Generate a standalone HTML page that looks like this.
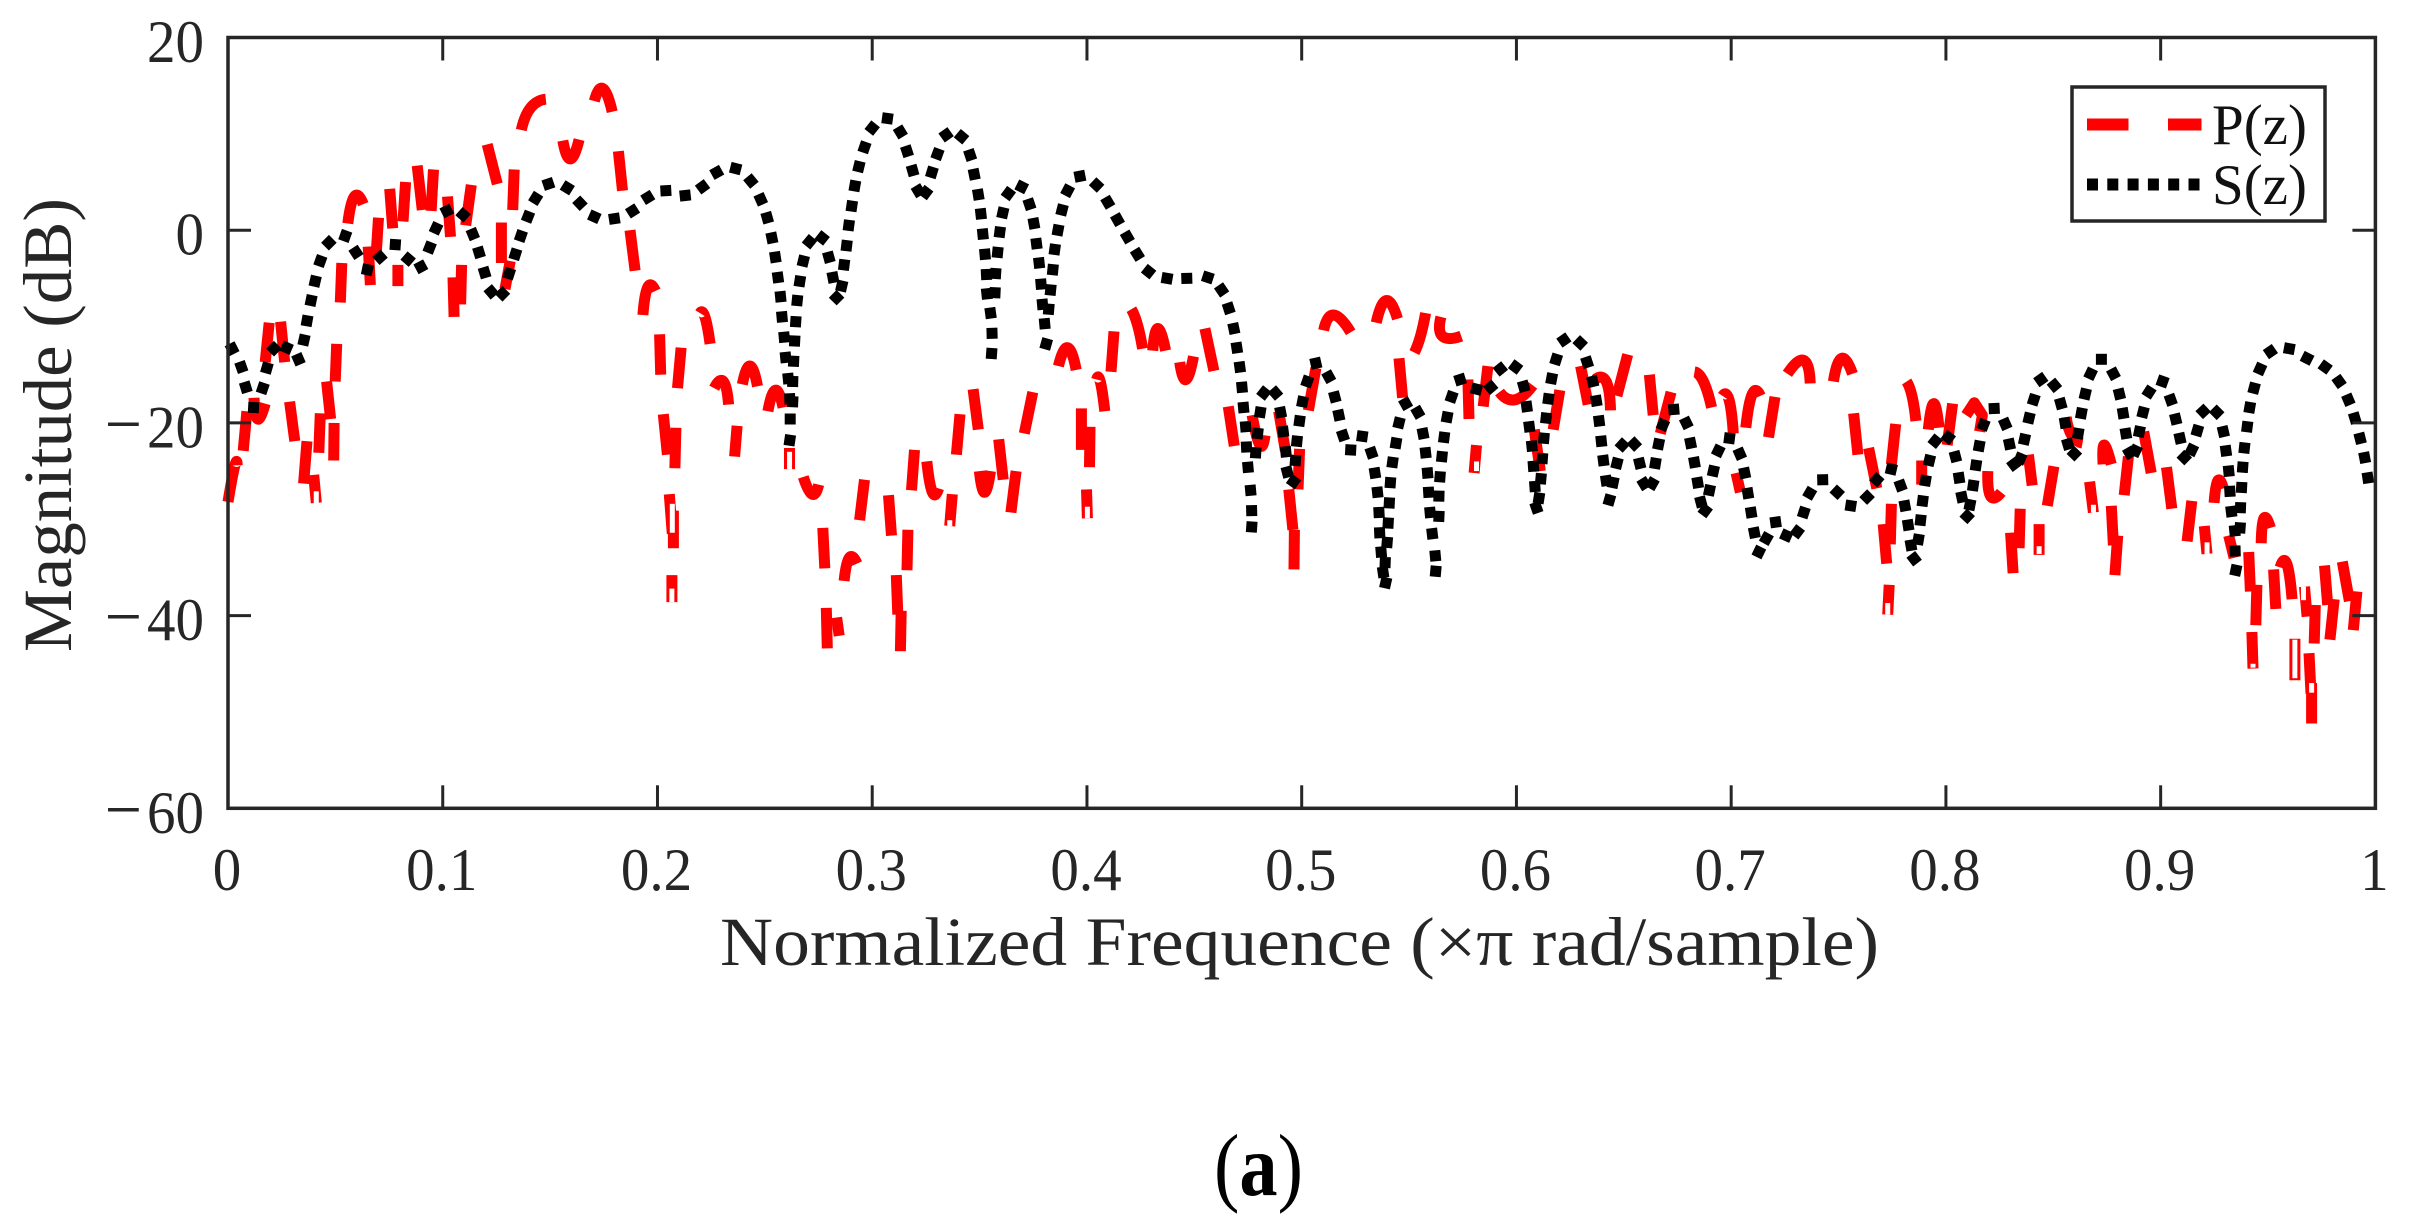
<!DOCTYPE html>
<html lang="en">
<head>
<meta charset="utf-8">
<title>Magnitude response chart</title>
<style>
html,body{margin:0;padding:0;background:#fff;}
svg{display:block;}
text{font-family:"Liberation Serif","DejaVu Serif",serif;}
</style>
</head>
<body>
<svg id="chart" xmlns="http://www.w3.org/2000/svg" width="2409" height="1228" viewBox="0 0 2409 1228">
  <rect x="0" y="0" width="2409" height="1228" fill="#fff"/>
  <g id="series-p"></g>
  <g id="series-s"></g>
  <g id="axes"></g>
  <text transform="translate(720,965) scale(1,1.04)" font-size="66" fill="#262626" textLength="1159" lengthAdjust="spacingAndGlyphs">Normalized Frequence (×π rad/sample)</text>
  <text transform="translate(71,652) rotate(-90) scale(1,1.04)" font-size="66" fill="#262626" textLength="454" lengthAdjust="spacingAndGlyphs">Magnitude (dB)</text>
  <g>
    <rect x="2072" y="87" width="253" height="134" fill="#fff" stroke="#262626" stroke-width="3.5"/>
    <line x1="2087" y1="124.5" x2="2128.5" y2="124.5" stroke="#ff0000" stroke-width="12"/>
    <line x1="2168" y1="124.5" x2="2201.5" y2="124.5" stroke="#ff0000" stroke-width="12"/>
    <line x1="2087" y1="184.5" x2="2201" y2="184.5" stroke="#000" stroke-width="12" stroke-dasharray="11 9.3"/>
    <text x="2212" y="144" font-size="57" fill="#111">P(z)</text>
    <text x="2212" y="204" font-size="57" fill="#111">S(z)</text>
  </g>
  <text x="1214" y="1195" font-size="88" fill="#000" textLength="89" lengthAdjust="spacingAndGlyphs">(<tspan font-weight="bold">a</tspan>)</text>
</svg>
<script>
const xTicks = [0,0.1,0.2,0.3,0.4,0.5,0.6,0.7,0.8,0.9,1];
const xTickLabels = ['0','0.1','0.2','0.3','0.4','0.5','0.6','0.7','0.8','0.9','1'];
const yTicks = [20,0,-20,-40,-60];
const yTickLabels = ['20','0','−20','−40','−60'];

/* P(z): visible dashes of the red curve — frequency (×π rad/sample) */
const pFreq = [
[0,.0031,.0043],[.0071,.0088],[.0121,.0138,.0173],[.0173,.0192],[.0245,.0264],[.0287,.0311],[.0368,.0352],[.0399,.0411],[.0423,.043],[.0478,.0459],
[.0492,.0494],[.0499,.0506],[.0523,.053],[.0558,.0589,.063],[.0663,.0653],[.0689,.0701],[.0791,.0791],[.0767,.0753],[.0815,.0827],[.0905,.0881],
[.0946,.0957],[.1036,.1022],[.1053,.1048],[.1083,.1088],[.1107,.1133],[.1254,.1207],[.1273,.1273],[.1314,.129],[.1326,.1333],[.1366,.1409,.148],
[.1559,.1594,.1635],[.1706,.1746,.1789],[.1818,.1837],[.1872,.1896],[.1932,.1955,.1991],[.2198,.2221,.2245],[.201,.2015],[.211,.2093],[.2264,.2307,.2331],[.2395,.2431,.2466],
[.2514,.2549,.2585],[.2027,.2046],[.2086,.2081],[.2371,.2359],[.2055,.2069],[.2074,.2074],[.2067,.2067],[.2615,.2615],[.2679,.272,.2751],[.277,.2779],
[.2786,.2791],[.2834,.2846],[.2869,.2893,.2929],[.2941,.2964],[.3076,.309],[.3162,.3166],[.3112,.3119],[.3135,.3131],[.3183,.3197],[.3254,.328,.3309],
[.3361,.3373],[.3392,.3409],[.3494,.347],[.3499,.3523,.3551],[.361,.3589],[.3646,.367],[.3708,.3748],[.3867,.391,.395],[.3974,.3974],[.4014,.4012],
[.3998,.4002],[.4045,.4062,.4083],[.4112,.4126],[.4207,.4235,.4259],[.4306,.433,.4366],[.4432,.4461,.4496],[.4591,.4549],[.4658,.4686],[.4769,.4805,.4829],[.4893,.4924],
[.499,.4983],[.494,.4959],[.4966,.4964],[.5066,.5031],[.5102,.5149,.5228],[.5347,.5394,.5446],[.5577,.5553,.5525],[.5648,.5655,.5743],[.5453,.547],[.5774,.5779],
[.5867,.5845],[.5814,.5803],[.5921,.5993,.6076],[.6083,.6111],[.6202,.6171],[.6299,.6334],[.6367,.6418,.6438],[.6468,.6518],[.6619,.6637],[.672,.667],
[.6829,.6871,.6909],[.696,.699,.701],[.7023,.7043],[.7068,.7098,.7136],[.7174,.7204],[.7262,.7338,.7368],[.7476,.7514,.7565],[.757,.759],[.764,.7678],[.7746,.7766],
[.7817,.7842,.786],[.7741,.7746],[.7724,.7708],[.7736,.7729],[.7918,.7943,.7968],[.7887,.7887],[.8006,.8031],[.8094,.8132,.817,.8157],[.8195,.8208,.8258],[.8346,.8341],
[.8313,.8301],[.8384,.8402],[.8434,.8434],[.8503,.8472],[.856,.8586,.8636],[.8669,.8687],[.8732,.8737,.877],[.877,.878],[.88,.8787],[.885,.883],
[.8921,.8956],[.9027,.9052],[.9145,.9123],[.9203,.9216],[.9249,.9266,.9292],[.9317,.9342],[.941,.9418],[.9468,.9481,.9511],[.9448,.9443],[.9425,.943],
[.9536,.9526],[.9556,.9587,.9612],[.967,.9682],[.9763,.9778],[.972,.9715],[.9808,.9788],[.9846,.9879],[.9914,.9897],[.9625,.9625],[.9691,.97],[.9703,.9703]
];
/* P(z): magnitude (dB), same grouping as pFreq */
const pMag = [
[-28.2,-24.5,-24.4],[-22.9,-18.8],[-17.4,-19.6,-18],[-13.7,-9.6],[-9.5,-13.7],[-17.8,-21.9],[-21.9,-26.3],[-25.4,-28.3],[-23.1,-19],[-19.6,-15.7],
[-23.9,-20],[-15.7,-11.8],[-7.5,-3.4],[.7,3.5,2.7],[-5.7,-1.7],[-2.8,1.3],[-3.6,-5.8],[.2,4.3],[.9,5],[2.1,6.7],
[2,6.3],[-.7,3.5],[-9,-4.9],[-7.7,-3.6],[.5,4.7],[4.8,8.9],[-3.4,.8],[-3.2,-6.1],[2.1,6.3],[10.4,12.7,13.6],
[9.3,7.4,9.4],[13.4,14.7,12.3],[8.2,4.1],[0,-4.2],[-8.8,-5.9,-6.3],[-8.6,-9,-11.8],[-10.8,-15],[-12.2,-16.4],[-16.4,-15.7,-18.1],[-16,-14.1,-16.2],
[-18.8,-16.6,-18.4],[-19.1,-23.3],[-20.5,-24.7],[-20.3,-23.5],[-27.4,-31.5],[-29.1,-33],[-35.8,-38.6],[-22.6,-24.8],[-25.6,-27.4,-26.4],[-30.9,-35.1],
[-39.2,-43.4],[-40.2,-42.1],[-36.4,-34,-34.6],[-30.1,-25.9],[-27.5,-31.7],[-35.3,-31.1],[-35.8,-39.9],[-39.5,-43.7],[-27,-22.8],[-24,-27.2,-26.8],
[-30.7,-27.4],[-23.3,-19.1],[-20.7,-16.5],[-25,-27.2,-25],[-25.9,-21.7],[-29.3,-25],[-21.1,-16.8],[-14.1,-12.2,-14.5],[-18.5,-22.8],[-20.4,-24.6],
[-26.9,-29.9],[-15.5,-15.7,-18.8],[-14.7,-10.5],[-8.2,-9.8,-12.3],[-12.5,-10.2,-12.5],[-13.7,-15.5,-13.1],[-14.6,-10.2],[-18.3,-22.4],[-19.2,-22.3,-21.3],[-18.8,-22.9],
[-22.7,-26.9],[-26.9,-31.1],[-31.1,-35.2],[-14.3,-18.7],[-10.4,-8.8,-10.6],[-9.6,-7.3,-9.2],[-8.6,-11,-12.7],[-9,-11,-11],[-13.3,-17.4],[-15.5,-19.6],
[-14.1,-18.3],[-22.3,-25.2],[-16.8,-17.6,-16.1],[-20.7,-25],[-16.6,-20.7],[-14.1,-18.1],[-15.5,-15.7,-18.7],[-17.2,-12.9],[-15,-19.2],[-16.8,-21.1],
[-14.7,-15.7,-18.4],[-17.2,-17.6,-21.1],[-25.2,-27.2],[-20.5,-17,-17.2],[-21.5,-17.3],[-14.9,-13.5,-15.9],[-15.7,-13.3,-14.9],[-19,-23.3],[-22.6,-26.8],[-24.3,-20.1],
[-15.7,-17.2,-19.8],[-32.6,-28.4],[-34.6,-30.5],[-36.8,-39.9],[-20.7,-18,-20.5],[-23.9,-26.4],[-22.3,-18],[-19.2,-17.9,-19.2,-20.9],[-25,-27.6,-27.2],[-28.9,-33],
[-35.6,-31.4],[-23.3,-26.5],[-30.5,-33.7],[-24.5,-28.6],[-19.4,-21.3,-22.1],[-26.1,-29.3],[-24.3,-22.3,-24.3],[-28.6,-32.7],[-31.7,-35.8],[-23.5,-27.5],
[-20.9,-25.2],[-24.6,-28.9],[-28.1,-32.3],[-30.7,-33.6],[-28.3,-26,-26.8],[-31.7,-34],[-33.4,-37.5],[-32.5,-29.9,-30.9],[-36.8,-41],[-41.7,-45.5],
[-39.3,-35.2],[-35,-34.6,-38.3],[-37,-40.1],[-34.8,-38.9],[-38.9,-42.9],[-38.3,-42.5],[-34.4,-38.5],[-37.5,-41.5],[-42.4,-46.7],[-43.9,-48.1],[-47,-51.2]
];
/* Small open spots inside the red line at sharp minima */
const pHoleFreq = [.0411,.2069,.2067,.2615,.4002,.3361,.5814,.7729,.8434,.8687,.9216,.9625,.9703,.9665,.943];
const pHoleMag = [-27.9,-29.9,-37.9,-23.9,-29.3,-30.4,-24.5,-39.3,-33.2,-28.9,-33,-44.5,-47.5,-37.7,-45.2];
const pHoleSpan = [1.6,3,1.4,1.8,1.2,.6,1,1.2,.8,.8,1.2,4,1,1.4,.4];

/* S(z): dotted black curve — one value per visible dot */
const sFreq = [
.0019,.0062,.0083,.0119,.0162,.0181,.0214,.0273,.0328,.0354,.0368,.0387,.0406,.043,.047,.0546,.0596,.0649,.0708,.0779,
.0839,.0898,.0939,.0969,.1019,.1095,.114,.1169,.1195,.1226,.1278,.1309,.1338,.1364,.1397,.1433,.1492,.158,.1639,.1706,
.1799,.1884,.1955,.2039,.2129,.221,.2276,.2364,.2435,.2481,.2511,.2533,.2549,.2561,.2573,.258,.259,.2597,.2609,.2616,
.2618,.2616,.263,.263,.2634,.2639,.2644,.2651,.2663,.2679,.2708,.2767,.2798,.2817,.2834,.2858,.2869,.2881,.2891,.2905,
.2919,.2938,.2964,.3,.3071,.3131,.3162,.3188,.3214,.3249,.3278,.3304,.3344,.3416,.3456,.3475,.3494,.3506,.3515,.3525,
.3532,.3534,.3551,.3558,.3556,.3572,.3575,.3584,.3594,.3608,.3634,.3696,.3732,.3753,.3765,.3777,.3786,.3793,.3803,.381,
.3822,.3831,.3841,.385,.3865,.3884,.391,.3967,.4045,.4097,.4142,.4188,.4235,.4287,.4373,.4465,.4563,.4627,.466,.4684,
.4698,.4712,.4722,.4729,.4739,.4743,.475,.4762,.4767,.4767,.4786,.4795,.4807,.4824,.4878,.4902,.4914,.4926,.4933,.4962,
.4971,.4978,.499,.5004,.5026,.5066,.5126,.5154,.5173,.5192,.5228,.5282,.5325,.5341,.5353,.536,.5363,.537,.5379,.5391,
.5389,.5398,.5403,.5408,.5413,.5423,.5439,.5453,.5484,.5541,.5565,.5577,.5586,.5591,.5598,.5608,.5622,.5624,.5639,.5639,
.5644,.5653,.5663,.5677,.5698,.5738,.5814,.588,.5925,.5996,.6034,.6048,.606,.6072,.6079,.6086,.6093,.6105,.6114,.6121,
.6128,.6138,.6149,.6164,.6185,.6221,.6297,.6329,.6355,.6372,.6385,.6395,.6405,.6418,.6433,.645,.6468,.6493,.6549,.6574,
.6594,.6632,.6647,.6662,.6682,.6733,.6791,.6811,.6829,.6844,.6859,.6879,.6899,.6917,.694,.6992,.704,.7063,.7078,.7093,
.7108,.7129,.7164,.7207,.7257,.7308,.7338,.7366,.7426,.7494,.7557,.7633,.7678,.7746,.7789,.7809,.7824,.7837,.7852,.7872,
.7882,.7892,.7905,.7923,.795,.8011,.8044,.8061,.8074,.8099,.8112,.8127,.814,.8155,.8175,.8225,.8276,.8296,.8316,.8346,
.8366,.8387,.8409,.8442,.8505,.8535,.8555,.8568,.8598,.8616,.8631,.8649,.8674,.8724,.878,.8808,.8825,.8838,.8855,.8883,
.8901,.8918,.8946,.9009,.9047,.907,.909,.911,.9145,.9171,.9198,.9261,.9292,.9304,.9317,.9322,.9329,.9345,.9347,.935,
.937,.9372,.9377,.9382,.939,.9403,.9415,.9435,.9463,.9511,.9599,.9682,.9766,.9831,.9874,.9904,.9929,.995,.9965
];
/* S(z): magnitude (dB), one value per dot */
const sMag = [
-12.3,-14.2,-16.3,-18.4,-16.4,-14.3,-12.3,-12.2,-13.4,-11.4,-9.4,-7.3,-5.3,-3.2,-1.3,-.6,-2.3,-4.1,-2.8,-1.5,
-3,-3.8,-1.8,.2,2,1.6,-.4,-2.3,-4.4,-6.4,-6.6,-4.5,-2.5,-.6,1.4,3.3,4.8,4.4,2.8,1.4,
1.2,2,3.4,4.1,3.6,4.5,6,6.4,5.1,3.2,1.3,-.8,-2.8,-4.9,-6.9,-9,-11.1,-13.2,-15.4,-17.5,
-19.6,-21.8,-17.8,-15.7,-13.6,-11.5,-9.5,-7.3,-5.3,-3.2,-1.2,-.8,-2.8,-4.9,-7,-5.8,-3.6,-1.6,.5,2.5,
4.6,6.6,8.6,10.6,11.6,10.2,8.2,6.2,4.1,3.9,6,7.9,9.9,9.7,7.8,5.8,3.7,1.7,-.4,-2.5,
-4.6,-6.6,-8.6,-10.7,-12.8,-6.5,-4.5,-2.3,-.2,1.8,3.8,4.5,2.7,.7,-1.4,-3.4,-5.6,-7.7,-9.7,-11.8,
-8.2,-6.2,-4.1,-2,0,2.1,4.1,5.6,4.7,2.9,1.1,-.7,-2.5,-4.3,-5,-5,-4.9,-6.2,-8.1,-10.2,
-12.2,-14.2,-16.3,-18.4,-20.4,-22.5,-24.6,-27,-29.1,-30.8,-23.1,-21.1,-18.9,-16.9,-16.9,-18.9,-20.9,-23,-25.1,-26.1,
-23.9,-21.9,-19.8,-17.8,-15.7,-13.8,-15.2,-17.3,-19.2,-21.3,-22.8,-21.4,-23.1,-25.2,-27.2,-29.3,-31.4,-33.4,-35.5,-36.6,
-34.5,-32.4,-30.4,-28.3,-26.2,-24.1,-22.1,-20,-18,-18.9,-21.1,-23.1,-25.2,-27.2,-29.3,-31.5,-33.8,-35.4,-29.7,-27.6,
-25.6,-23.5,-21.5,-19.4,-17.3,-15.5,-16.5,-16.3,-14.4,-14.2,-16.2,-18.3,-20.4,-22.4,-24.5,-26.6,-28.8,-27.8,-25.8,-23.7,
-21.6,-19.5,-17.5,-15.4,-13.4,-11.4,-11.7,-13.7,-15.7,-17.7,-19.8,-21.9,-23.9,-26,-28,-26.2,-24.2,-22.3,-22.2,-24.2,
-26.3,-26.3,-24.2,-22.2,-20.2,-18.6,-20,-22.1,-24.1,-26.2,-28.2,-29.1,-27,-25,-22.9,-21.6,-23.2,-25.2,-27.3,-29.3,
-31.4,-33.4,-32,-30.3,-31.7,-31.3,-29.3,-27.3,-25.9,-27.2,-28.6,-27.7,-25.9,-24.8,-26.5,-28.6,-30.6,-32.7,-34.1,-32.1,
-30.1,-28.1,-26,-23.9,-21.9,-21.5,-23.5,-25.7,-27.7,-29.7,-28.5,-26.5,-24.4,-22.4,-20.2,-18.5,-20.1,-22.2,-24.3,-23.7,
-21.7,-19.5,-17.6,-15.5,-16.1,-18,-20,-22.2,-23.2,-21.1,-19,-17,-14.9,-13.4,-14.9,-17,-19,-21.1,-23.1,-22.9,
-20.9,-18.9,-16.8,-15.7,-17.6,-19.6,-21.6,-23.6,-22.8,-20.8,-18.8,-18.9,-20.9,-22.9,-25,-27.1,-29.2,-31.2,-33.3,-35.3,
-30.9,-28.8,-26.7,-24.6,-22.6,-20.4,-18.4,-16.4,-14.4,-12.6,-12.3,-13.3,-14.2,-15.7,-17.6,-19.5,-21.6,-23.6,-25.7
];

const NS = 'http://www.w3.org/2000/svg';
const plotLeft = 228, plotRight = 2375.4, plotTop = 37.5, plotBottom = 808.3;
const xMin = 0, xMax = 1, yMin = -60, yMax = 20;
function xScale(f){ return plotLeft + (f - xMin) / (xMax - xMin) * (plotRight - plotLeft); }
function yScale(m){ return plotBottom - (m - yMin) / (yMax - yMin) * (plotBottom - plotTop); }
function mk(tag, attrs, parent){
  const el = document.createElementNS(NS, tag);
  for (const k in attrs) el.setAttribute(k, attrs[k]);
  parent.appendChild(el);
  return el;
}

/* red dashes */
const gP = document.getElementById('series-p');
pFreq.forEach(function(fs, i){
  const ms = pMag[i];
  const pts = fs.map(function(f, j){ return [xScale(f), yScale(ms[j])]; });
  let d = 'M' + pts[0][0].toFixed(1) + ' ' + pts[0][1].toFixed(1);
  if (pts.length === 3) {
    const cx = 2 * pts[1][0] - (pts[0][0] + pts[2][0]) / 2;
    const cy = 2 * pts[1][1] - (pts[0][1] + pts[2][1]) / 2;
    d += 'Q' + cx.toFixed(1) + ' ' + cy.toFixed(1) + ' ' + pts[2][0].toFixed(1) + ' ' + pts[2][1].toFixed(1);
  } else {
    for (let j = 1; j < pts.length; j++) d += 'L' + pts[j][0].toFixed(1) + ' ' + pts[j][1].toFixed(1);
  }
  const el = mk('path', {d: d, fill: 'none', stroke: '#ff0000', 'stroke-width': 11, 'stroke-linejoin': 'round'}, gP);
  
  
});
pHoleFreq.forEach(function(f, i){
  const el = mk('line', {
    x1: xScale(f), x2: xScale(f),
    y1: yScale(pHoleMag[i] + pHoleSpan[i] / 2), y2: yScale(pHoleMag[i] - pHoleSpan[i] / 2),
    stroke: '#fff', 'stroke-width': 5
  }, gP);
  
  
});

/* black dots, each aligned with the local direction of the curve */
const gS = document.getElementById('series-s');
const dotLen = 11;
sFreq.forEach(function(f, i){
  const a = Math.max(0, i - 1), b = Math.min(sFreq.length - 1, i + 1);
  let dx = xScale(sFreq[b]) - xScale(sFreq[a]);
  let dy = yScale(sMag[b]) - yScale(sMag[a]);
  const n = Math.hypot(dx, dy) || 1;
  dx /= n; dy /= n;
  const x = xScale(f), y = yScale(sMag[i]);
  const el = mk('line', {
    x1: (x - dx * dotLen / 2).toFixed(1), y1: (y - dy * dotLen / 2).toFixed(1),
    x2: (x + dx * dotLen / 2).toFixed(1), y2: (y + dy * dotLen / 2).toFixed(1),
    stroke: '#000', 'stroke-width': 11
  }, gS);
  
  
});

/* axes */
const gA = document.getElementById('axes');
const axisColor = '#262626', tickLen = 23, labelStretch = 1.06;
const frame = mk('rect', {x: plotLeft, y: plotTop, width: plotRight - plotLeft, height: plotBottom - plotTop, fill: 'none', stroke: axisColor, 'stroke-width': 3.5}, gA);



xTicks.forEach(function(v, i){
  const x = xScale(v);
  if (i > 0 && i < xTicks.length - 1) {
    const t1 = mk('line', {x1: x, x2: x, y1: plotBottom, y2: plotBottom - tickLen, stroke: axisColor, 'stroke-width': 3}, gA);
    
    
    const t2 = mk('line', {x1: x, x2: x, y1: plotTop, y2: plotTop + tickLen, stroke: axisColor, 'stroke-width': 3}, gA);
    
    
  }
  const lab = mk('text', {transform: 'translate(' + (x - 1) + ',890) scale(1,' + labelStretch + ')', 'font-size': 57, 'text-anchor': 'middle', fill: axisColor}, gA);
  lab.textContent = xTickLabels[i];
  
  
});

yTicks.forEach(function(v, i){
  const y = yScale(v);
  if (i > 0 && i < yTicks.length - 1) {
    const t1 = mk('line', {x1: plotLeft, x2: plotLeft + tickLen, y1: y, y2: y, stroke: axisColor, 'stroke-width': 3}, gA);
    
    
    const t2 = mk('line', {x1: plotRight, x2: plotRight - tickLen, y1: y, y2: y, stroke: axisColor, 'stroke-width': 3}, gA);
    
    
  }
  const lab = mk('text', {transform: 'translate(204,' + (y + 24.5) + ') scale(1,' + labelStretch + ')', 'font-size': 57, 'text-anchor': 'end', fill: axisColor}, gA);
  
  
  const s = yTickLabels[i];
  if (s.charAt(0) === '−') {
    const m = mk('tspan', {'font-size': 66}, lab);
    m.textContent = '−';
    const r = mk('tspan', {dx: 5}, lab);
    r.textContent = s.slice(1);
  } else {
    lab.textContent = s;
  }
});
</script>
</body>
</html>
